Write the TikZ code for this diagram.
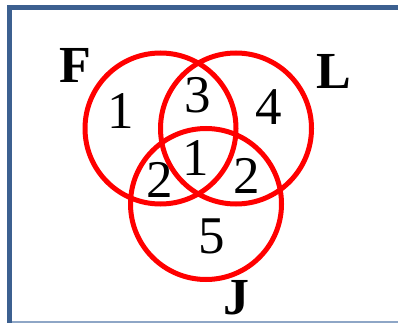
\documentclass[tikz,border=0pt]{standalone}
\usepackage{fontspec}
\setmainfont{Liberation Serif}
\definecolor{frameblue}{RGB}{60,96,144}
\definecolor{framelight}{RGB}{142,166,198}

\begin{document}
\begin{tikzpicture}[x=1pt,y=-1pt,
    venn/.style={circle,draw=red,line width=5pt,minimum size=151pt,inner sep=0pt},
    count/.style={inner sep=0pt,font=\fontsize{53}{53}\selectfont},
    setname/.style={inner sep=0pt,font=\fontsize{52}{52}\selectfont\bfseries}]
  \useasboundingbox (0,0) rectangle (398,323);

  % frame
  \draw[framelight,line width=2pt] (7,322) -- (398,322);
  \draw[frameblue,line width=4.5pt] (9.5,323) -- (9.5,7.5) -- (398,7.5);

  % the three sets
  \node[venn] (setF) at (160.5,128.5) {};
  \node[venn] (setL) at (236,128.5) {};
  \node[venn] (setJ) at (206,204) {};

  \node[setname] (nameF) at (75.5,65.5) {F};
  \node[setname] (nameL) at (333.5,71.5) {L};
  \node[setname] (nameJ) at (236.5,298) {J};

  % region counts
  \node[count] (onlyF) at (121,111) {1};
  \node[count] (FL) at (197.5,95.5) {3};
  \node[count] (onlyL) at (268.5,107.5) {4};
  \node[count] (FJ) at (159.5,179.5) {2};
  \node[count] (FLJ) at (196,158.5) {1};
  \node[count] (LJ) at (247,175.5) {2};
  \node[count] (onlyJ) at (212,236) {5};
\end{tikzpicture}
\end{document}
